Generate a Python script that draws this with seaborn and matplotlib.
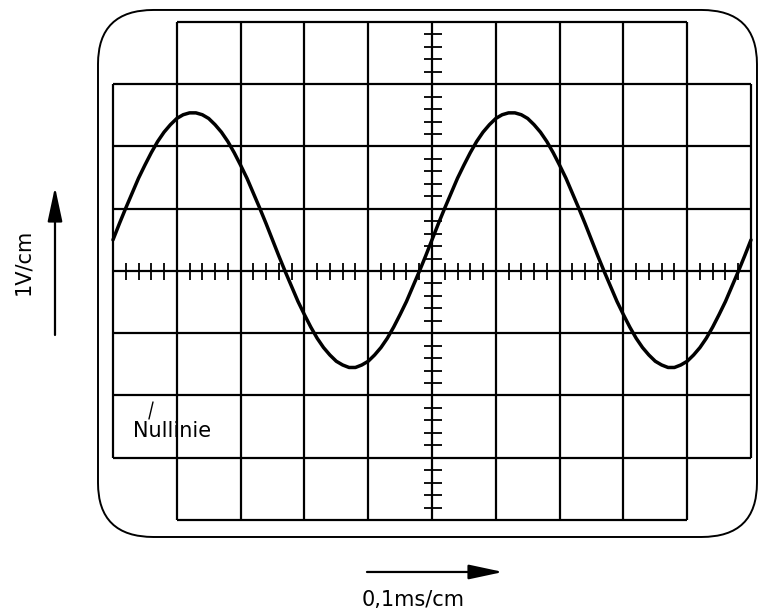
import matplotlib.pyplot as plt
from matplotlib.patches import FancyBboxPatch
import seaborn as sns

# trace: x in cm from the centre line, y in cm above it
time_cm = [-5.0, -4.9, -4.8, -4.7, -4.6, -4.5, -4.4, -4.3, -4.2, -4.1,
           -4.0, -3.9, -3.8, -3.7, -3.6, -3.5, -3.4, -3.3, -3.2, -3.1,
           -3.0, -2.9, -2.8, -2.7, -2.6, -2.5, -2.4, -2.3, -2.2, -2.1,
           -2.0, -1.9, -1.8, -1.7, -1.6, -1.5, -1.4, -1.3, -1.2, -1.1,
           -1.0, -0.9, -0.8, -0.7, -0.6, -0.5, -0.4, -0.3, -0.2, -0.1,
           0.0, 0.1, 0.2, 0.3, 0.4, 0.5, 0.6, 0.7, 0.8, 0.9,
           1.0, 1.1, 1.2, 1.3, 1.4, 1.5, 1.6, 1.7, 1.8, 1.9,
           2.0, 2.1, 2.2, 2.3, 2.4, 2.5, 2.6, 2.7, 2.8, 2.9,
           3.0, 3.1, 3.2, 3.3, 3.4, 3.5, 3.6, 3.7, 3.8, 3.9,
           4.0, 4.1, 4.2, 4.3, 4.4, 4.5, 4.6, 4.7, 4.8, 4.9, 5.0]
volts_cm = [0.50, 0.76, 1.01, 1.25, 1.49, 1.70, 1.90, 2.08, 2.23, 2.35,
            2.45, 2.51, 2.54, 2.54, 2.51, 2.45, 2.35, 2.23, 2.08, 1.90,
            1.70, 1.49, 1.25, 1.01, 0.76, 0.50, 0.24, -0.01, -0.25, -0.49,
            -0.70, -0.90, -1.08, -1.23, -1.35, -1.45, -1.51, -1.55, -1.55, -1.51,
            -1.45, -1.35, -1.23, -1.08, -0.90, -0.70, -0.49, -0.25, -0.01, 0.24,
            0.50, 0.76, 1.01, 1.25, 1.49, 1.70, 1.90, 2.08, 2.23, 2.35,
            2.45, 2.51, 2.54, 2.54, 2.51, 2.45, 2.35, 2.23, 2.08, 1.90,
            1.70, 1.49, 1.25, 1.01, 0.76, 0.50, 0.24, -0.01, -0.25, -0.49,
            -0.70, -0.90, -1.08, -1.23, -1.35, -1.45, -1.51, -1.55, -1.55, -1.51,
            -1.45, -1.35, -1.23, -1.08, -0.90, -0.70, -0.49, -0.25, -0.01, 0.24, 0.50]

y_label = '1V/cm'
x_label = '0,1ms/cm'
zero_label = 'Nullinie'

sns.set_theme(style='white')
plt.rcParams['font.family'] = ['DejaVu Sans']

fig = plt.figure(figsize=(7.58, 6.14), dpi=100)
ax = fig.add_axes([0, 0, 1, 1])
ax.set_xlim(-6.771, 5.110)
ax.set_ylim(-5.510, 4.353)
ax.axis('off')

ink = 'black'
grid_lw = 1.6

# screen outline
screen = FancyBboxPatch((-5.235, -4.273), 10.329, 8.466,
                        boxstyle='round,pad=0,rounding_size=0.87',
                        fill=False, ec=ink, lw=1.4)
ax.add_patch(screen)

# graticule: full width rows in the middle, shorter top and bottom rows
ax.hlines(range(-3, 4), -5, 5, color=ink, lw=grid_lw)
ax.hlines([-4, 4], -4, 4, color=ink, lw=grid_lw)
ax.vlines(range(-4, 5), -4, 4, color=ink, lw=grid_lw)
ax.vlines([-5, 5], -3, 3, color=ink, lw=grid_lw)

# fine divisions on the centre lines
minor_x = [v / 5 for v in range(-25, 26) if v % 5 != 0]
minor_y = [v / 5 for v in range(-20, 21) if v % 5 != 0]
ax.vlines(minor_x, -0.15, 0.13, color=ink, lw=1.3)
ax.hlines(minor_y, -0.12, 0.15, color=ink, lw=1.3)

# the signal
sns.lineplot(x=time_cm, y=volts_cm, color=ink, lw=2.5, ax=ax,
             estimator=None, sort=False)

# zero-line label
ax.plot([-4.436, -4.373], [-2.378, -2.104], color=ink, lw=1.0)
ax.text(-4.075, -2.57, zero_label, fontsize=15, color=ink,
        ha='center', va='center')

# scale arrows and labels
arrow = dict(arrowstyle='-|>,head_length=2.1,head_width=0.45',
             color=ink, lw=1.6, mutation_scale=10, shrinkA=0, shrinkB=0)
ax.annotate('', xy=(-5.909, 1.349), xytext=(-5.909, -1.028), arrowprops=arrow)
ax.annotate('', xy=(1.113, -4.835), xytext=(-1.019, -4.835), arrowprops=arrow)
ax.text(-6.411, 0.145, y_label, fontsize=15, rotation=90, color=ink,
        ha='center', va='center')
ax.text(-0.298, -5.285, x_label, fontsize=15, color=ink,
        ha='center', va='center')

fig.savefig('out.png', dpi=100, facecolor='white')
